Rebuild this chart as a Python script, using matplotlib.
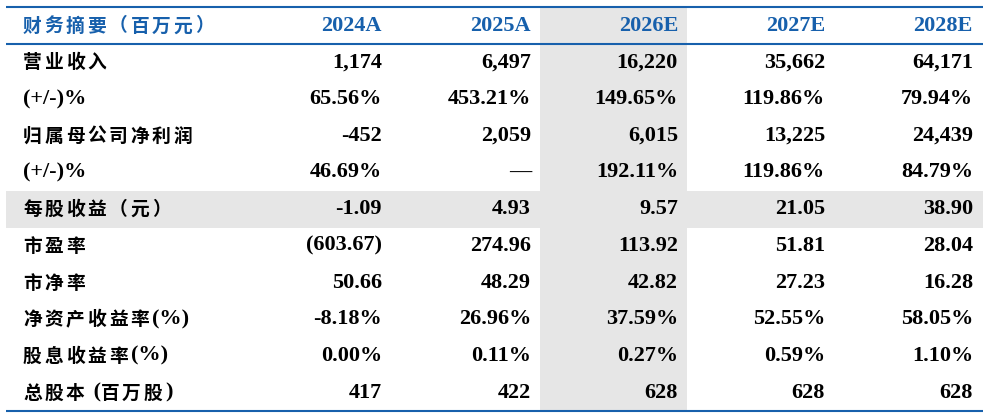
import matplotlib
matplotlib.use('Agg')
import matplotlib.pyplot as plt
from matplotlib.patches import Rectangle

# table content
title = '财务摘要（百万元）'
years = ['2024A', '2025A', '2026E', '2027E', '2028E']
row_labels = ['营业收入', '(+/-)%', '归属母公司净利润', '(+/-)%', '每股收益（元）',
              '市盈率', '市净率', '净资产收益率(%)', '股息收益率(%)', '总股本 (百万股)']
rev = ['1,174', '6,497', '16,220', '35,662', '64,171']
rev_g = ['65.56%', '453.21%', '149.65%', '119.86%', '79.94%']
np_ = ['-452', '2,059', '6,015', '13,225', '24,439']
np_g = ['46.69%', '—', '192.11%', '119.86%', '84.79%']
eps = ['-1.09', '4.93', '9.57', '21.05', '38.90']
pe = ['(603.67)', '274.96', '113.92', '51.81', '28.04']
pb = ['50.66', '48.29', '42.82', '27.23', '16.28']
roe = ['-8.18%', '26.96%', '37.59%', '52.55%', '58.05%']
dy = ['0.00%', '0.11%', '0.27%', '0.59%', '1.10%']
shares = ['417', '422', '628', '628', '628']
cells = [rev, rev_g, np_, np_g, eps, pe, pb, roe, dy, shares]

shade_col = 2
shade_row = 4

blue = '#1760AC'
gray = '#E6E6E6'
serif = 'Liberation Serif'
cjk = 'Noto Sans CJK SC'
num_size = 16
cjk_size = 13.5
cjk_step = 21.5

W, H = 987, 417
fig = plt.figure(figsize=(W/100, H/100), dpi=100)
ax = fig.add_axes([0, 0, 1, 1])
ax.set_xlim(0, W)
ax.set_ylim(H, 0)
ax.axis('off')
renderer = fig.canvas.get_renderer()

x0, x1 = 6, 983
top, head_bot = 7, 44
rh = 36.7
col_right = [382, 531, 678, 825, 973]
col_left = [540, 687]
label_x = 23
bottom = head_bot + rh*len(row_labels)


def is_cjk(ch):
    return ord(ch) > 0x2E80


def spaced_label(x, y, s, color):
    # chinese glyphs get wider spacing, like the source font
    run = ''
    for ch in s + '\0':
        if ch != '\0' and not is_cjk(ch):
            run += ch
            continue
        if run:
            t = ax.text(x, y, run, color=color, fontsize=num_size, fontweight='bold',
                        family=serif, ha='left', va='center')
            x += t.get_window_extent(renderer).width
            run = ''
        if ch != '\0':
            ax.text(x, y + 0.5, ch, color=color, fontsize=cjk_size, fontweight='bold',
                    family=cjk, ha='left', va='center')
            x += cjk_step


# shading
ax.add_patch(Rectangle((x0, head_bot + rh*shade_row), x1 - x0, rh, color=gray, lw=0, zorder=0))
ax.add_patch(Rectangle((col_left[0], top), col_left[1] - col_left[0], bottom - top, color=gray, lw=0, zorder=0))

# lines
for y in [top, head_bot, bottom]:
    ax.plot([x0, x1], [y, y], color=blue, lw=1.5, solid_capstyle='butt')

# header
yc = (top + head_bot)/2
spaced_label(label_x, yc, title, blue)
for j, yr in enumerate(years):
    ax.text(col_right[j], yc, yr, color=blue, fontsize=num_size, fontweight='bold', family=serif,
            ha='right', va='center')

# body
for i, lab in enumerate(row_labels):
    yc = head_bot + rh*(i + 0.5)
    spaced_label(label_x, yc, lab, 'black')
    for j, v in enumerate(cells[i]):
        ax.text(col_right[j], yc, v, color='black', fontsize=num_size, fontweight='bold', family=serif,
                ha='right', va='center')

fig.savefig('out.png', dpi=100)
